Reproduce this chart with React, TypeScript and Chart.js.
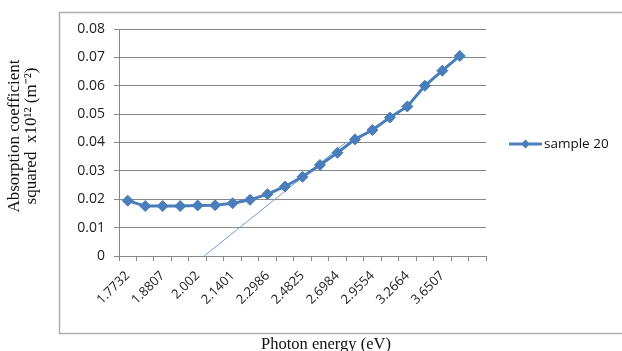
import React, { useEffect, useRef } from "react";
import { Chart, registerables } from "chart.js";

Chart.register(...registerables);

// Photon energy categories (eV); every other one is shown on the axis, last category empty
const energyLabels = [
  "1.7732", "1.8254", "1.8807", "1.9395", "2.002", "2.0688", "2.1401",
  "2.2165", "2.2986", "2.387", "2.4825", "2.5859", "2.6984", "2.821",
  "2.9554", "3.1031", "3.2664", "3.4479", "3.6507", "3.8789", "",
];

// Absorption coefficient squared (x10^12 m^-2)
const sample20 = [
  0.0195, 0.0176, 0.0176, 0.0176, 0.0178, 0.0179, 0.0186, 0.0198, 0.0218,
  0.0245, 0.0279, 0.0321, 0.0364, 0.0411, 0.0444, 0.0488, 0.0527, 0.06,
  0.0653, 0.0705,
];

// Linear fit (tangent) extrapolated to zero: category-index position and value
const tangentIndex = [4.37, 12.5];
const tangentValue = [0, 0.0401];

const yMin = 0;
const yMax = 0.08;
const yStep = 0.01;

const seriesName = "sample 20";
const yTitle = ["Absorption coefficient", "squared  x10\u00b9\u00b2 (m\u207b\u00b2)"];
const xTitle = "Photon energy (eV)";

const GRID = "#878787";
const BLUE = "#4a7ebb";

const framePlugin = {
  id: "frame",
  beforeDraw(chart: any) {
    const ctx = chart.ctx;
    ctx.save();
    ctx.fillStyle = "#ffffff";
    ctx.fillRect(0, 0, chart.width, chart.height);
    ctx.strokeStyle = "#b0b0b0";
    ctx.lineWidth = 1.5;
    ctx.strokeRect(59.5, 12.5, 700, 321);
    ctx.restore();
  },
};

const titlesPlugin = {
  id: "axisTitles",
  afterDraw(chart: any) {
    const ctx = chart.ctx;
    ctx.save();
    ctx.fillStyle = "#111";
    ctx.textAlign = "center";
    ctx.textBaseline = "middle";
    ctx.font = '16.5px "Liberation Serif"';
    ctx.fillText(xTitle, 326, 345);
    ctx.font = '17px "Liberation Serif"';
    ctx.translate(0, 136);
    ctx.rotate(-Math.PI / 2);
    ctx.fillText(yTitle[0], 0, 15);
    ctx.fillText(yTitle[1], 0, 32);
    ctx.restore();
  },
};

const legendPlugin = {
  id: "customLegend",
  afterDraw(chart: any) {
    const ds = chart.data.datasets[0];
    const ctx = chart.ctx;
    const y = 144;
    const x0 = 509;
    const x1 = 542;
    ctx.save();
    ctx.strokeStyle = ds.borderColor;
    ctx.lineWidth = 3;
    ctx.beginPath();
    ctx.moveTo(x0, y);
    ctx.lineTo(x1, y);
    ctx.stroke();
    const cx = (x0 + x1) / 2;
    const r = 4.5;
    ctx.fillStyle = ds.pointBackgroundColor;
    ctx.beginPath();
    ctx.moveTo(cx, y - r);
    ctx.lineTo(cx + r, y);
    ctx.lineTo(cx, y + r);
    ctx.lineTo(cx - r, y);
    ctx.closePath();
    ctx.fill();
    ctx.fillStyle = "#111";
    ctx.font = '13.5px "Open Sans"';
    ctx.textBaseline = "middle";
    ctx.textAlign = "left";
    ctx.fillText(ds.label, x1 + 2, y);
    ctx.restore();
  },
};

export default function App() {
  const ref = useRef<HTMLCanvasElement>(null);

  useEffect(() => {
    if (!ref.current) return;
    const chart = new Chart(ref.current, {
      type: "line",
      data: {
        labels: energyLabels,
        datasets: [
          {
            label: seriesName,
            data: sample20,
            borderColor: BLUE,
            backgroundColor: BLUE,
            pointBackgroundColor: BLUE,
            pointBorderColor: BLUE,
            pointStyle: "rectRot",
            pointRadius: 5.5,
            pointBorderWidth: 1,
            borderWidth: 3,
            tension: 0,
            xAxisID: "x",
            yAxisID: "y",
          },
          {
            label: "fit",
            data: tangentIndex.map((x, i) => ({ x, y: tangentValue[i] })),
            borderColor: "#6f9fd3",
            borderWidth: 1,
            pointRadius: 0,
            tension: 0,
            xAxisID: "x2",
            yAxisID: "y",
          },
        ],
      },
      options: {
        animation: false,
        responsive: false,
        layout: { padding: { left: 0, top: 29, right: 136, bottom: 0 } },
        plugins: { legend: { display: false }, tooltip: { enabled: false } },
        scales: {
          x: {
            type: "category",
            offset: true,
            grid: {
              offset: true,
              drawOnChartArea: false,
              drawTicks: true,
              tickLength: 5,
              color: GRID,
            },
            border: { display: true, color: GRID },
            ticks: {
              autoSkip: false,
              minRotation: 45,
              maxRotation: 45,
              padding: 7,
              color: "#222",
              font: { family: "Open Sans", size: 13 },
              callback: (_v: any, i: number) => (i % 2 === 0 ? energyLabels[i] : ""),
            },
            title: { display: false, text: xTitle },
            afterFit: (s: any) => {
              s.height = 95;
            },
          },
          x2: {
            type: "linear",
            display: false,
            min: -0.5,
            max: energyLabels.length - 0.5,
          },
          y: {
            min: yMin,
            max: yMax,
            ticks: {
              stepSize: yStep,
              padding: 9,
              color: "#222",
              font: { family: "Open Sans", size: 14 },
              callback: (v: any) => (Number(v) === 0 ? "0" : Number(v).toFixed(2)),
            },
            grid: { color: GRID, tickLength: 5 },
            border: { display: true, color: GRID },
            title: { display: false, text: yTitle },
            afterFit: (s: any) => {
              s.width = 119;
            },
          },
        },
      },
      plugins: [framePlugin, legendPlugin, titlesPlugin],
    } as any);
    return () => chart.destroy();
  }, []);

  return (
    <div style={{ position: "fixed", left: 0, top: 0, width: 622, height: 351, background: "#fff" }}>
      <canvas ref={ref} width={622} height={351} style={{ display: "block" }} />
    </div>
  );
}
